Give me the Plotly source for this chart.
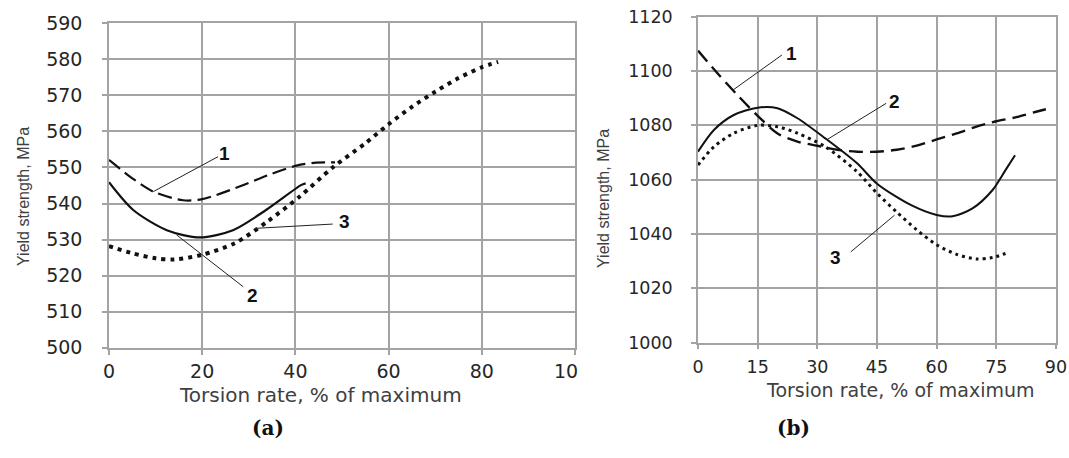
import plotly.graph_objects as go

W, H = 1069, 458

# ---------------- Panel (a) data ----------------
a_x1 = [0, 5, 9.5, 15.9, 20, 28, 34, 40.2, 44, 48.5]
a_y1 = [552.1, 547.0, 543.3, 540.9, 541.2, 544.7, 547.8, 550.5, 551.3, 551.4]
a_x2 = [0, 5.2, 12.4, 19.5, 26.6, 33.7, 41.2, 42.2]
a_y2 = [545.9, 538.2, 532.6, 530.6, 532.6, 538.2, 545.1, 545.6]
a_x3 = [0, 5, 10, 14, 20, 27, 34, 41, 48, 55, 60, 65, 70, 75, 80, 83.5]
a_y3 = [528.2, 526.2, 524.8, 524.5, 525.8, 529, 535, 542, 550, 556.7, 562, 566.8, 571, 574.8, 577.8, 579.3]
a_xticks = [0, 20, 40, 60, 80, 100]
a_xticktext = ["0", "20", "40", "60", "80", ""]
a_yticks = [500, 510, 520, 530, 540, 550, 560, 570, 580, 590]
# curve labels (text, label x, label y, leader start x, y, leader end x, y)
a_labels = ["1", "2", "3"]
a_lab_x = [24.8, 30.9, 50.5]
a_lab_y = [553.9, 514.6, 535.0]
a_lead_x0 = [23.4, 28.8, 48.0]
a_lead_y0 = [553.0, 516.9, 534.3]
a_lead_x1 = [9.5, 14.5, 31.3]
a_lead_y1 = [543.3, 531.3, 533.1]

# ---------------- Panel (b) data ----------------
b_x1 = [0, 5, 10, 15, 20, 25, 30, 35, 40, 45, 50, 55, 60, 65, 70, 75, 80, 85, 89]
b_y1 = [1107.5, 1099, 1091, 1083.5, 1077, 1074, 1072.5, 1071, 1070.3, 1070.3, 1071,
        1072.5, 1074.8, 1077, 1079.5, 1081.5, 1083, 1085, 1086.5]
b_x2 = [0, 4, 9, 15, 20, 25, 32, 40, 45, 53.6, 60, 64, 69, 74, 77.3, 79.7]
b_y2 = [1070.3, 1078.3, 1083.8, 1086.5, 1086.3, 1082.6, 1075.2, 1066, 1058.5,
        1050.6, 1047, 1046.5, 1049.4, 1056.1, 1063.5, 1069]
b_x3 = [0, 4, 9, 15, 20, 25, 32, 40, 45, 50, 55, 60, 65, 70, 74, 77.3]
b_y3 = [1065.4, 1072.1, 1077.1, 1080, 1079.5, 1077.1, 1072.1, 1062.9, 1055, 1048,
        1041.5, 1036, 1032.5, 1030.8, 1031.3, 1032.8]
b_xticks = [0, 15, 30, 45, 60, 75, 90]
b_yticks = [1000, 1020, 1040, 1060, 1080, 1100, 1120]
b_labels = ["1", "2", "3"]
b_lab_x = [23.6, 49.4, 34.6]
b_lab_y = [1106.5, 1088.7, 1031.5]
b_lead_x0 = [21.1, 47.3, 38.4]
b_lead_y0 = [1105.9, 1088.1, 1033.4]
b_lead_x1 = [8.8, 32.5, 49.4]
b_lead_y1 = [1093.0, 1074.8, 1046.9]

x_title = "Torsion rate, % of maximum"
y_title = "Yield strength, MPa"
panel_tags = ["(a)", "(b)"]

# ---------------- styling ----------------
GRID = "#a3a3a3"
TICKFONT = "DejaVu Sans"
TICKCOL = "#262626"
TITLECOL = "#404040"
INK = "#111111"

def px(xp):
    return xp / W

def py(yp):
    return 1 - yp / H

fig = go.Figure()

# panel (a) traces
fig.add_trace(go.Scatter(x=a_x1, y=a_y1, mode="lines", line=dict(color=INK, width=2.2, dash="14px,6px", shape="spline", smoothing=0.8), xaxis="x", yaxis="y", showlegend=False))
fig.add_trace(go.Scatter(x=a_x2, y=a_y2, mode="lines", line=dict(color=INK, width=2.2, shape="spline", smoothing=0.8), xaxis="x", yaxis="y", showlegend=False))
fig.add_trace(go.Scatter(x=a_x3, y=a_y3, mode="lines", line=dict(color=INK, width=4, dash="4px,5px", shape="spline", smoothing=0.8), xaxis="x", yaxis="y", showlegend=False))

# panel (b) traces
fig.add_trace(go.Scatter(x=b_x1, y=b_y1, mode="lines", line=dict(color=INK, width=2.4, dash="14px,7px", shape="spline", smoothing=0.8), xaxis="x2", yaxis="y2", showlegend=False))
fig.add_trace(go.Scatter(x=b_x2, y=b_y2, mode="lines", line=dict(color=INK, width=2.0, shape="spline", smoothing=0.8), xaxis="x2", yaxis="y2", showlegend=False))
fig.add_trace(go.Scatter(x=b_x3, y=b_y3, mode="lines", line=dict(color=INK, width=3, dash="3px,4px", shape="spline", smoothing=0.8), xaxis="x2", yaxis="y2", showlegend=False))

shapes = []
annotations = []
for i in range(3):
    shapes.append(dict(type="line", xref="x", yref="y", x0=a_lead_x0[i], y0=a_lead_y0[i], x1=a_lead_x1[i], y1=a_lead_y1[i], line=dict(color="#222", width=1)))
    annotations.append(dict(xref="x", yref="y", x=a_lab_x[i], y=a_lab_y[i], text="<b>%s</b>" % a_labels[i], showarrow=False, font=dict(family="Liberation Sans", size=19, color=INK)))
    shapes.append(dict(type="line", xref="x2", yref="y2", x0=b_lead_x0[i], y0=b_lead_y0[i], x1=b_lead_x1[i], y1=b_lead_y1[i], line=dict(color="#222", width=1)))
    annotations.append(dict(xref="x2", yref="y2", x=b_lab_x[i], y=b_lab_y[i], text="<b>%s</b>" % b_labels[i], showarrow=False, font=dict(family="Liberation Sans", size=19, color=INK)))

# cropped "10" of 100 tick label on panel (a)
annotations.append(dict(xref="paper", yref="paper", x=px(552), y=py(370.5), xanchor="left", yanchor="middle", text="10", showarrow=False, font=dict(family=TICKFONT, size=19, color=TICKCOL)))

# axis titles
annotations.append(dict(xref="paper", yref="paper", x=px(320), y=py(395), text=x_title, showarrow=False, xanchor="center", yanchor="middle", font=dict(family=TICKFONT, size=20, color=TITLECOL)))
annotations.append(dict(xref="paper", yref="paper", x=px(900), y=py(390), text=x_title, showarrow=False, xanchor="center", yanchor="middle", font=dict(family=TICKFONT, size=19, color=TITLECOL)))
annotations.append(dict(xref="paper", yref="paper", x=px(23), y=py(197), text=y_title, textangle=-90, showarrow=False, xanchor="center", yanchor="middle", font=dict(family="Liberation Sans Narrow, Liberation Sans", size=16, color=TITLECOL)))
annotations.append(dict(xref="paper", yref="paper", x=px(604), y=py(199), text=y_title, textangle=-90, showarrow=False, xanchor="center", yanchor="middle", font=dict(family="Liberation Sans Narrow, Liberation Sans", size=16, color=TITLECOL)))

# panel tags
annotations.append(dict(xref="paper", yref="paper", x=px(250), y=py(442), text="<b>%s</b>" % panel_tags[0], showarrow=False, font=dict(family="DejaVu Serif", size=20, color=INK)))
annotations.append(dict(xref="paper", yref="paper", x=px(812), y=py(442), text="<b>%s</b>" % panel_tags[1], showarrow=False, font=dict(family="DejaVu Serif", size=20, color=INK)))

common_axis = dict(showgrid=True, gridcolor=GRID, gridwidth=1.6, showline=True, linecolor=GRID, linewidth=1.6, mirror=True,
                   ticks="outside", ticklen=5, tickcolor=GRID, tickwidth=1.6, zeroline=False, automargin=False)

fig.update_layout(
    template="none",
    width=W, height=H, margin=dict(l=0, r=0, t=0, b=0, autoexpand=False),
    paper_bgcolor="white", plot_bgcolor="white",
    xaxis=dict(domain=[px(109), px(575)], range=[0, 100], tickvals=a_xticks, ticktext=a_xticktext,
               tickfont=dict(family=TICKFONT, size=19, color=TICKCOL), ticklabelstandoff=1, anchor="y", **common_axis),
    yaxis=dict(domain=[py(347.7), py(23.3)], range=[500, 590], tickvals=a_yticks,
               tickfont=dict(family=TICKFONT, size=19, color=TICKCOL), ticklabelstandoff=16, anchor="x", **common_axis),
    xaxis2=dict(domain=[px(698), px(1056)], range=[0, 90], tickvals=b_xticks,
                tickfont=dict(family=TICKFONT, size=17.5, color=TICKCOL), ticklabelstandoff=3, anchor="y2", **common_axis),
    yaxis2=dict(domain=[py(342.6), py(16.7)], range=[1000, 1120], tickvals=b_yticks,
                tickfont=dict(family=TICKFONT, size=17.5, color=TICKCOL), ticklabelstandoff=15, anchor="x2", **common_axis),
    shapes=shapes, annotations=annotations,
)

fig.write_html("out.html")
